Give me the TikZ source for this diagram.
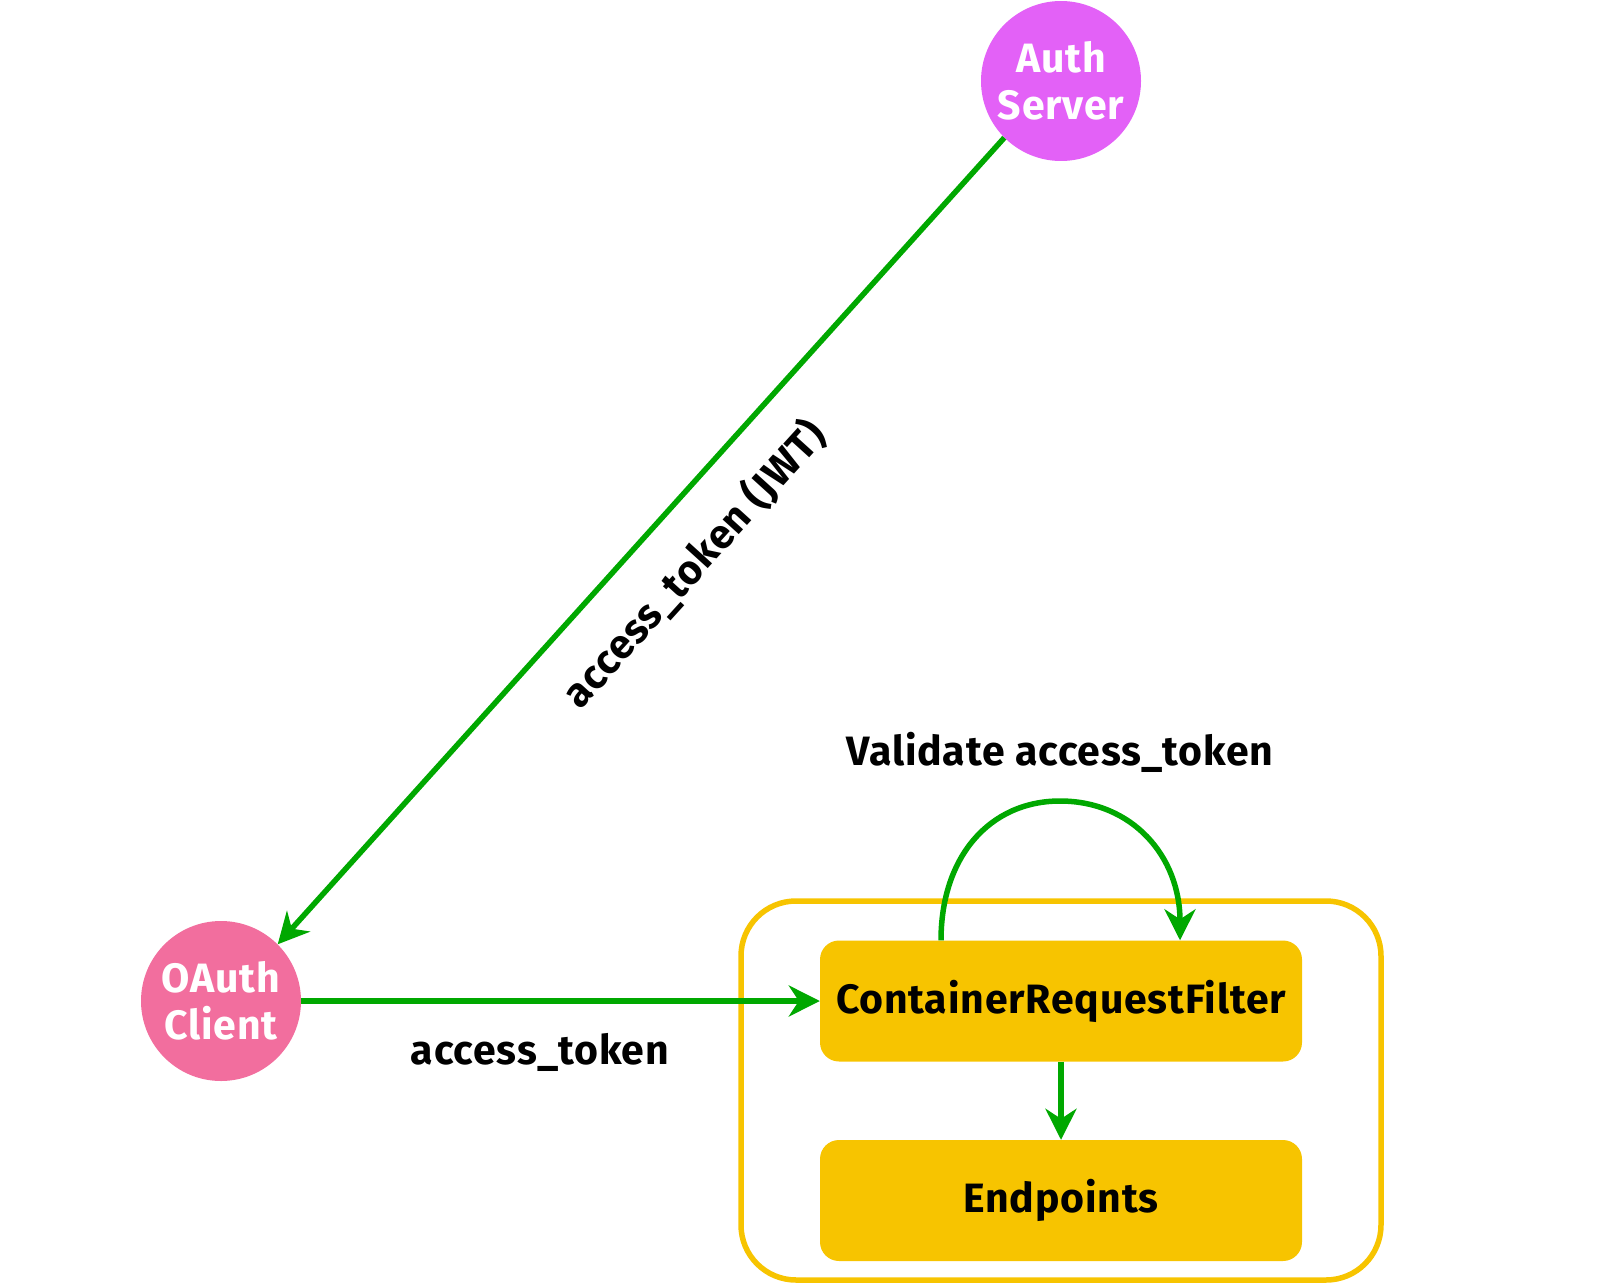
\documentclass[tikz,border=0pt]{standalone}
\usepackage{fontspec}
\setmainfont{Fira Sans}[LetterSpace=2]
\usetikzlibrary{arrows.meta,calc}
\definecolor{edgegreen}{HTML}{00A800}
\definecolor{authpurple}{HTML}{E361F7}
\definecolor{clientpink}{HTML}{F26E9E}
\definecolor{boxyellow}{HTML}{F7C400}
\begin{document}
\begin{tikzpicture}[x=1pt,y=-1pt,
  txt/.style={font=\fontsize{41}{47}\selectfont\bfseries},
  circ/.style={circle, minimum size=160pt, inner sep=0pt, text=white, align=center, txt},
  boxy/.style={rectangle, rounded corners=19pt, fill=boxyellow, minimum width=482pt, minimum height=121pt, inner sep=0pt, txt},
  flow/.style={draw=edgegreen, line width=5.5pt, -{Stealth[length=31pt,width=31pt,inset=10pt]}},
  lbl/.style={txt, inner sep=0pt}
]
\useasboundingbox (0,0) rectangle (1600,1284);
\node[circ, fill=authpurple] (auth) at (1061,81) {Auth\\Server};
\node[circ, fill=clientpink] (client) at (221,1001) {OAuth\\Client};
\node[draw=boxyellow, line width=5.5pt, rounded corners=55pt, minimum width=640pt, minimum height=379pt] (container) at (1061,1090.5) {};
\node[boxy] (filter) at (1061,1001) {ContainerRequestFilter};
\node[boxy] (endpoints) at (1061,1200.5) {Endpoints};
\draw[flow] (auth.225) -- (client.45);
\draw[flow] (client.east) -- (filter.west);
\draw[flow] (filter.south) -- (endpoints.north);
\draw[flow] ($(filter.north)+(-120,0)$) .. controls +(0,-84) and (990,801) .. (1060,801) .. controls (1132,801) and (1180,856) .. ($(filter.north)+(119,0)$);
\node[lbl, rotate=47.8] (jwtlabel) at (694,564) {access\_token (JWT)};
\node[lbl] (toklabel) at (540,1052) {access\_token};
\node[lbl] (validlabel) at (1060,752) {Validate access\_token};
\end{tikzpicture}
\end{document}
